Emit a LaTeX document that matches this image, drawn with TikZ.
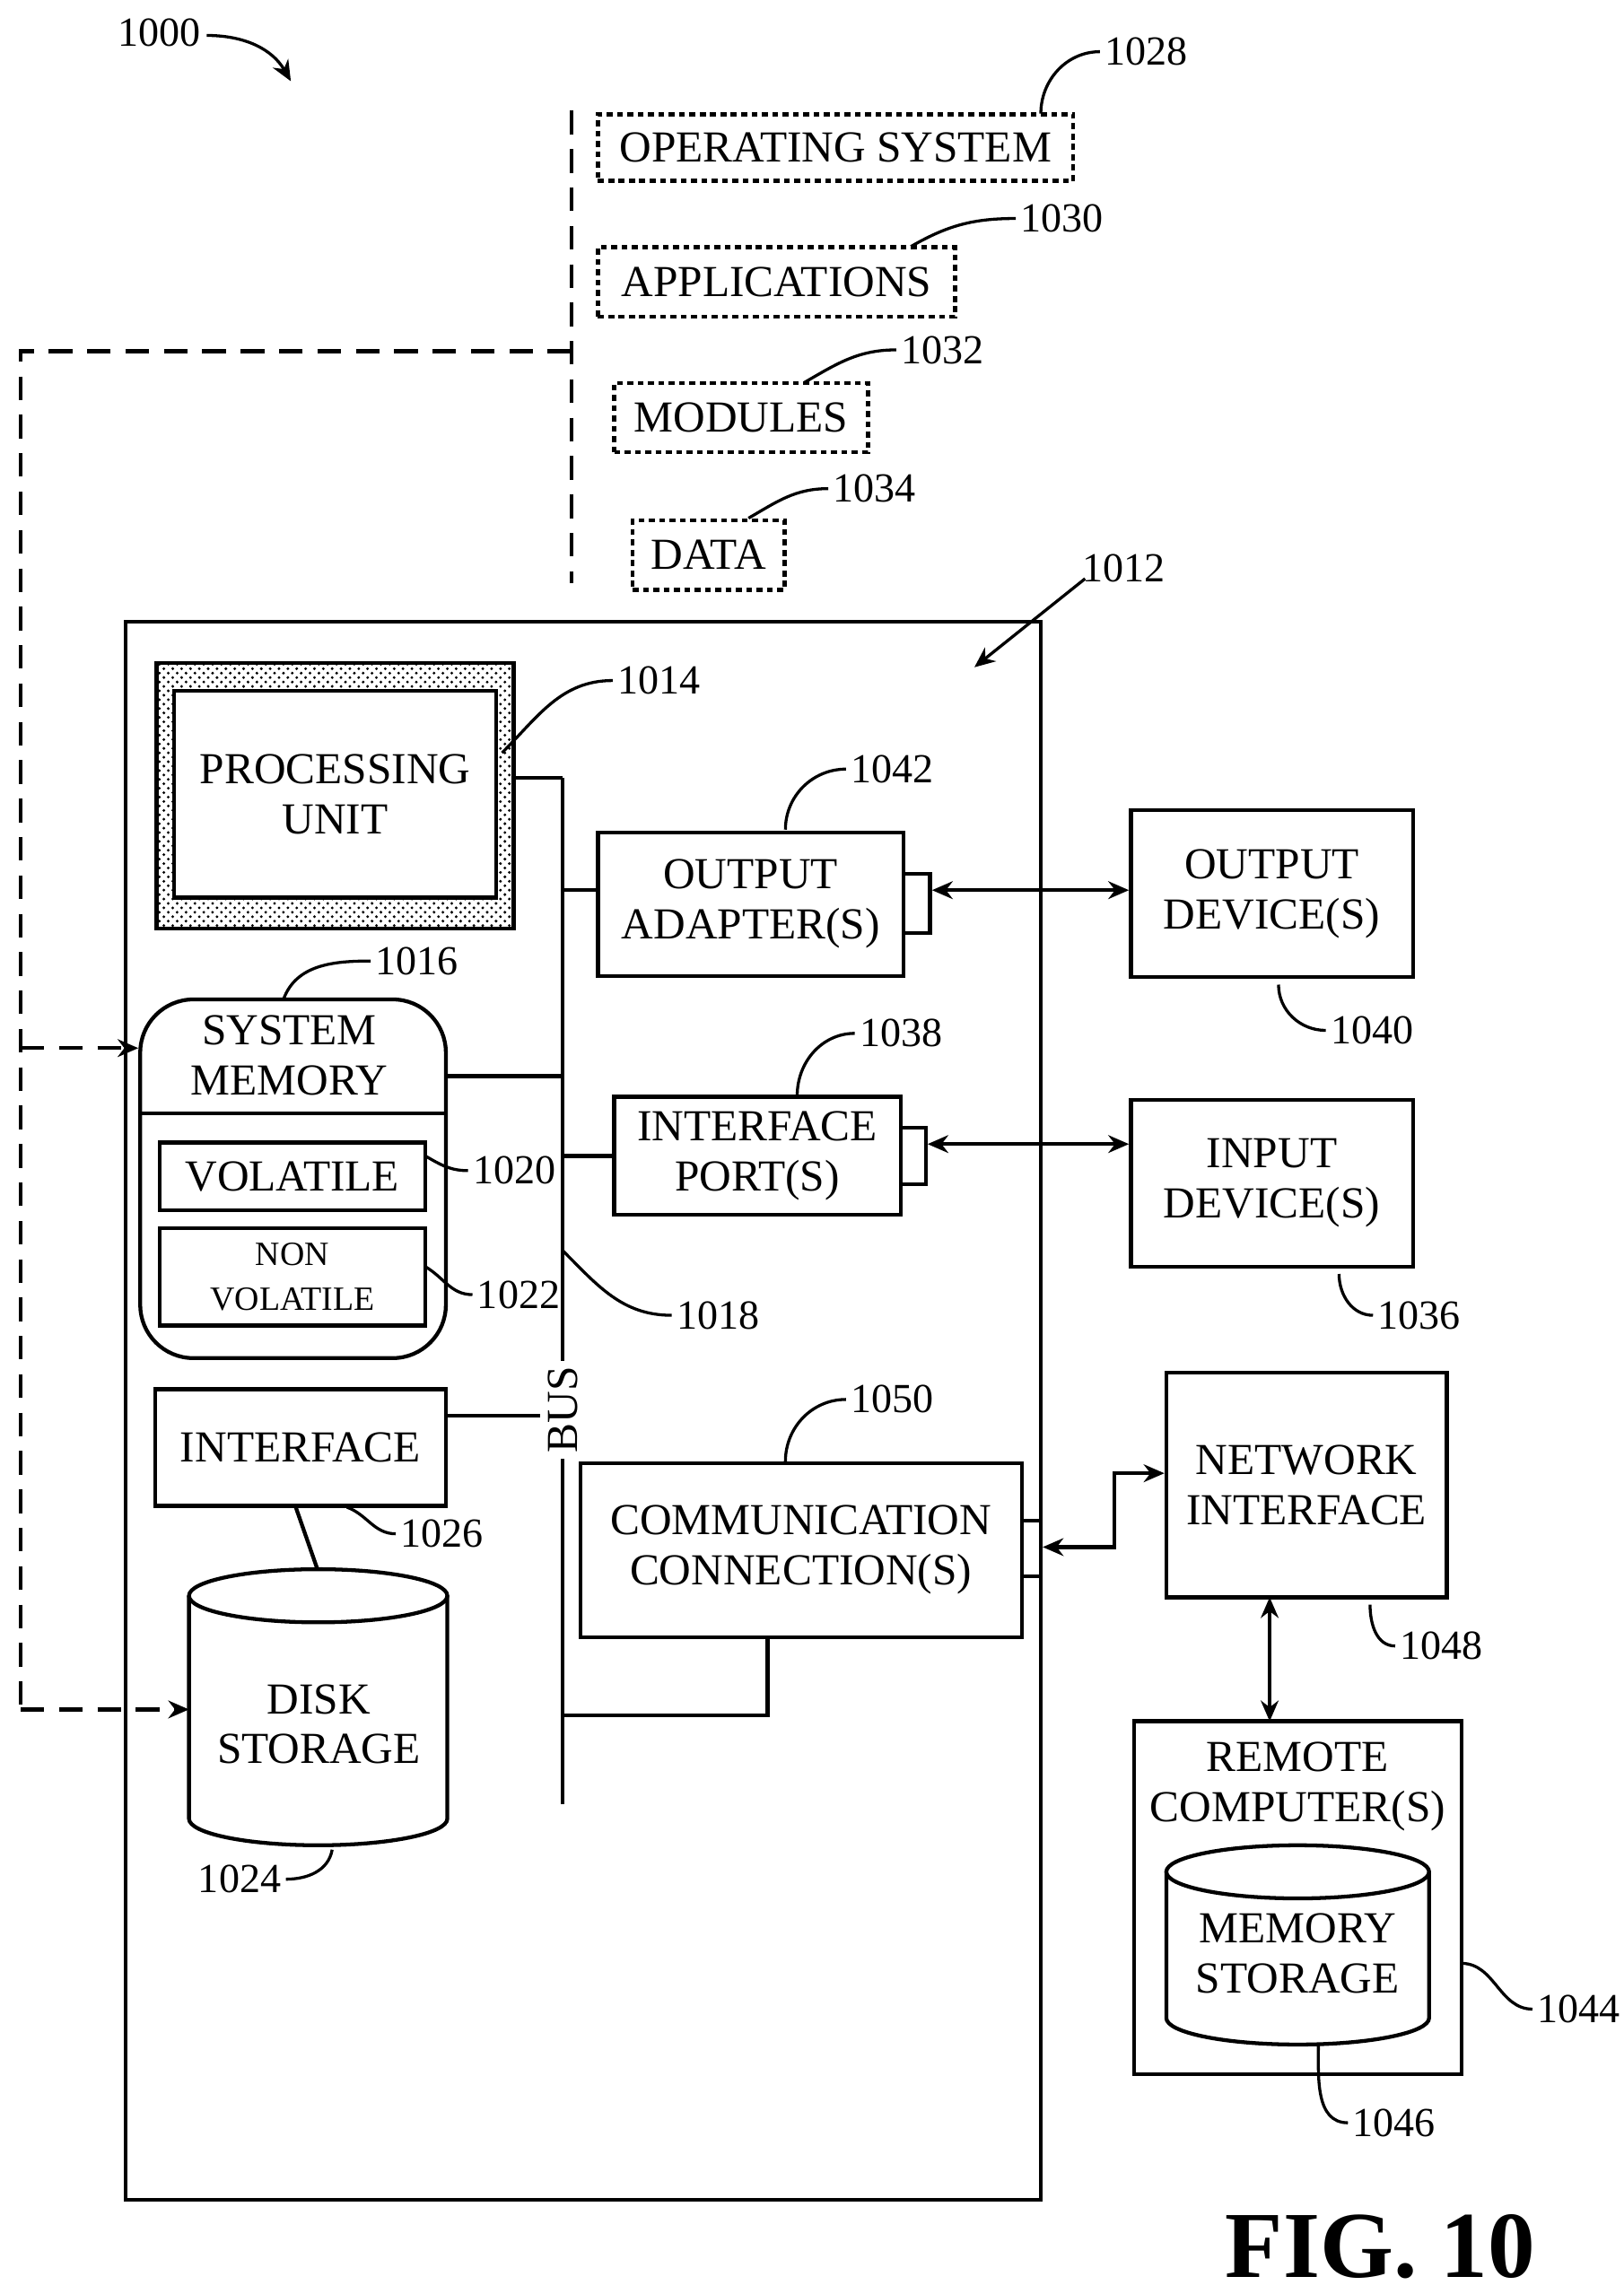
\documentclass[tikz,border=0pt]{standalone}
\usepackage{fontspec}
\setmainfont{Liberation Serif}
\usetikzlibrary{arrows.meta,patterns,shapes.geometric}
\begin{document}
\begin{tikzpicture}[x=0.5pt,y=-0.5pt,line width=1.3pt,
 txt/.style={font=\fontsize{15}{17}\selectfont,align=center,inner sep=0},
 num/.style={font=\fontsize{14}{16}\selectfont,inner sep=1pt,anchor=west},
 dot/.style={dash pattern=on 2pt off 1.5pt,line width=1.3pt},
 dsh/.style={dash pattern=on 8pt off 5pt,line width=1.3pt},
 arr/.style={-{Stealth[length=7pt,width=6pt]}},
 darr/.style={{Stealth[length=7pt,width=6pt]}-{Stealth[length=7pt,width=6pt]}},
 lead/.style={line width=1pt}]
\useasboundingbox (0,0) rectangle (1100,1554);
% top label
\node[num,anchor=center] (l1000) at (108,22) {1000};
\draw[arr,lead] (140,24) to[out=0,in=120] (197,55);
% dashed vertical
\coordinate (dv1) at (387,75); \coordinate (dv2) at (387,395);
\draw[dsh] (dv1) -- (dv2);
% software boxes
\node[txt,draw,dot,minimum width=161pt,minimum height=22.5pt] (os) at (566,100) {OPERATING SYSTEM};
\node[txt,draw,dot,minimum width=121pt,minimum height=23.5pt] (app) at (526,191) {APPLICATIONS};
\node[txt,draw,dot,minimum width=86pt,minimum height=23.5pt] (mod) at (502,283) {MODULES};
\node[txt,draw,dot,minimum width=51.5pt,minimum height=23.5pt] (data) at (480,376) {DATA};
\node[num] (n1028) at (745,35) {1028};
\node[num] (n1030) at (688,148) {1030};
\node[num] (n1032) at (607,237) {1032};
\node[num] (n1034) at (561,331) {1034};
\draw[lead] (705,77) to[out=90,in=180] (n1028.west);
\draw[lead] (617,167) to[out=30,in=180] (n1030.west);
\draw[lead] (545,259) to[out=30,in=180] (n1032.west);
\draw[lead] (507,351) to[out=30,in=180] (n1034.west);
% main box
\node[draw,minimum width=310pt,minimum height=534.5pt,inner sep=0] (main) at (395,955.5) {};
\node[num] (n1012) at (730,385) {1012};
\draw[arr,lead] (735,392) -- (660,452);
% processing unit
\node[draw,pattern=crosshatch dots,minimum width=121pt,minimum height=90pt,inner sep=0] (puo) at (227,539) {};
\node[draw,fill=white,txt,minimum width=109pt,minimum height=70pt] (pu) at (227,538) {PROCESSING\\UNIT};
\node[num] (n1014) at (415,461) {1014};
\draw[lead] (340,510) to[out=45,in=180] (n1014.west);
% bus
\coordinate (bt) at (381,527); \coordinate (bb) at (381,1222);
\draw (bt) -- (bb);
\node[txt,rotate=90,fill=white,inner sep=2pt] (bus) at (381,955) {BUS};
\draw (348,527) -- (bt);
% output adapter
\node[draw,txt,minimum width=103.5pt,minimum height=48.5pt] (oa) at (508.5,612.5) {OUTPUT\\ADAPTER(S)};
\node[draw,minimum width=9pt,minimum height=20pt,inner sep=0] (oap) at (621,612) {};
\draw (381,603) -- (oa.west|-0,603);
\node[num] (n1042) at (573,521) {1042};
\draw[lead] (532,562) to[out=90,in=180] (n1042.west);
\node[draw,txt,minimum width=95.5pt,minimum height=56.5pt] (od) at (861.5,605.5) {OUTPUT\\DEVICE(S)};
\draw[darr] (oap.east|-0,603) -- (od.west|-0,603);
\node[num] (n1040) at (898,698) {1040};
\draw[lead] (866,667) to[out=-90,in=180] (n1040.west);
% system memory
\node[draw,rounded corners=18pt,minimum width=103.5pt,minimum height=121.5pt,inner sep=0] (sm) at (198.5,798.5) {};
\draw (95,754) -- (302,754);
\node[txt] (smt) at (196,715) {SYSTEM\\MEMORY};
\draw (302,729) -- (381,729);
\node[num] (n1016) at (251,651) {1016};
\draw[lead] (192,677) to[out=70,in=180] (n1016.west);
\node[draw,txt,minimum width=90pt,minimum height=23pt] (vol) at (198,797) {VOLATILE};
\node[draw,txt,font=\fontsize{11.5}{15}\selectfont,minimum width=90pt,minimum height=33pt] (nvol) at (198,865) {NON\\VOLATILE};
\node[num] (n1020) at (317,793) {1020};
\node[num] (n1022) at (320,877) {1022};
\draw[lead] (288,783) to[out=-30,in=180] (n1020.west);
\draw[lead] (288,858) to[out=-30,in=180] (n1022.west);
\node[num] (n1018) at (455,891) {1018};
\draw[lead] (381,847) to[out=-45,in=180] (n1018.west);
% interface port
\node[draw,txt,minimum width=97pt,minimum height=40pt] (ip) at (513,783) {INTERFACE\\PORT(S)};
\node[draw,minimum width=8.5pt,minimum height=19pt,inner sep=0] (ipp) at (618.5,783) {};
\draw (381,783) -- (ip.west);
\node[num] (n1038) at (579,700) {1038};
\draw[lead] (540,742) to[out=90,in=180] (n1038.west);
\node[draw,txt,minimum width=95.5pt,minimum height=56.5pt] (id) at (861.5,801.5) {INPUT\\DEVICE(S)};
\draw[darr] (ipp.east|-0,775) -- (id.west|-0,775);
\node[num] (n1036) at (930,891) {1036};
\draw[lead] (907,863) to[out=-90,in=180] (n1036.west);
% interface
\node[draw,txt,minimum width=98.5pt,minimum height=39.5pt] (if) at (203.5,980.5) {INTERFACE};
\draw (302,959) -- (bus.north|-0,959);
\node[num] (n1026) at (268,1039) {1026};
\draw[lead] (235,1021) to[out=-20,in=180] (n1026.west);
% disk (manual cylinder)
\draw (128,1081) -- (128,1232) arc[start angle=180,end angle=0,x radius=87.5,y radius=18] -- (303,1081);
\draw (215.5,1081) ellipse[x radius=87.5,y radius=18];
\coordinate (disk) at (128,1158);
\node[txt] (diskt) at (216,1168) {DISK\\STORAGE};
\draw (200,1020) -- (215,1063);
\node[num] (n1024) at (131,1273) {1024};
\draw[lead] (225,1253) to[out=-100,in=0] (n1024.east);
% dashed feed
\coordinate (dA) at (387,238); \coordinate (dB) at (14,238); \coordinate (dC) at (14,1158); \coordinate (dD) at (14,710);
\draw[dsh] (dA) -- (dB) -- (dC);
\draw[dsh,arr] (dC) -- (disk);
\draw[dsh,arr] (dD) -- (sm.west|-0,710);
% communication
\node[draw,txt,minimum width=149.5pt,minimum height=59pt] (cc) at (542.5,1050) {COMMUNICATION\\CONNECTION(S)};
\node[draw,minimum width=6.5pt,minimum height=19pt,inner sep=0] (ccp) at (698.5,1049) {};
\draw (381,1162) -- (520,1162) -- (520,1109);
\node[num] (n1050) at (573,948) {1050};
\draw[lead] (532,990) to[out=90,in=180] (n1050.west);
\node[draw,minimum width=95pt,minimum height=76pt,inner sep=0] (ni) at (885,1006) {};
\node[txt] (nit) at (885,1006) {NETWORK\\INTERFACE};
\draw[darr] (ccp.east|-0,1048) -- (755,1048) -- (755,998) -- (ni.west|-0,998);
\node[num] (n1048) at (945,1115) {1048};
\draw[lead] (928,1087) to[out=-90,in=180] (n1048.west);
% remote
\node[draw,minimum width=111pt,minimum height=119.5pt,inner sep=0] (rc) at (879,1285.5) {};
\draw[darr] (860,1082) -- (860,1166);
\node[txt] (rct) at (879,1210) {REMOTE\\COMPUTER(S)};
\draw (790,1268) -- (790,1367) arc[start angle=180,end angle=0,x radius=89,y radius=18] -- (968,1268);
\draw (879,1268) ellipse[x radius=89,y radius=18];
\node[txt] (mst) at (879,1323) {MEMORY\\STORAGE};
\node[num] (n1044) at (1038,1361) {1044};
\draw[lead] (990,1330) to[out=0,in=180] (n1044.west);
\node[num] (n1046) at (913,1438) {1046};
\draw[lead] (893,1385) to[out=-90,in=180] (n1046.west);
% fig
\node[font=\fontsize{32}{36}\selectfont\bfseries,inner sep=0] (fig) at (935,1522) {FIG. 10};
\end{tikzpicture}
\end{document}
